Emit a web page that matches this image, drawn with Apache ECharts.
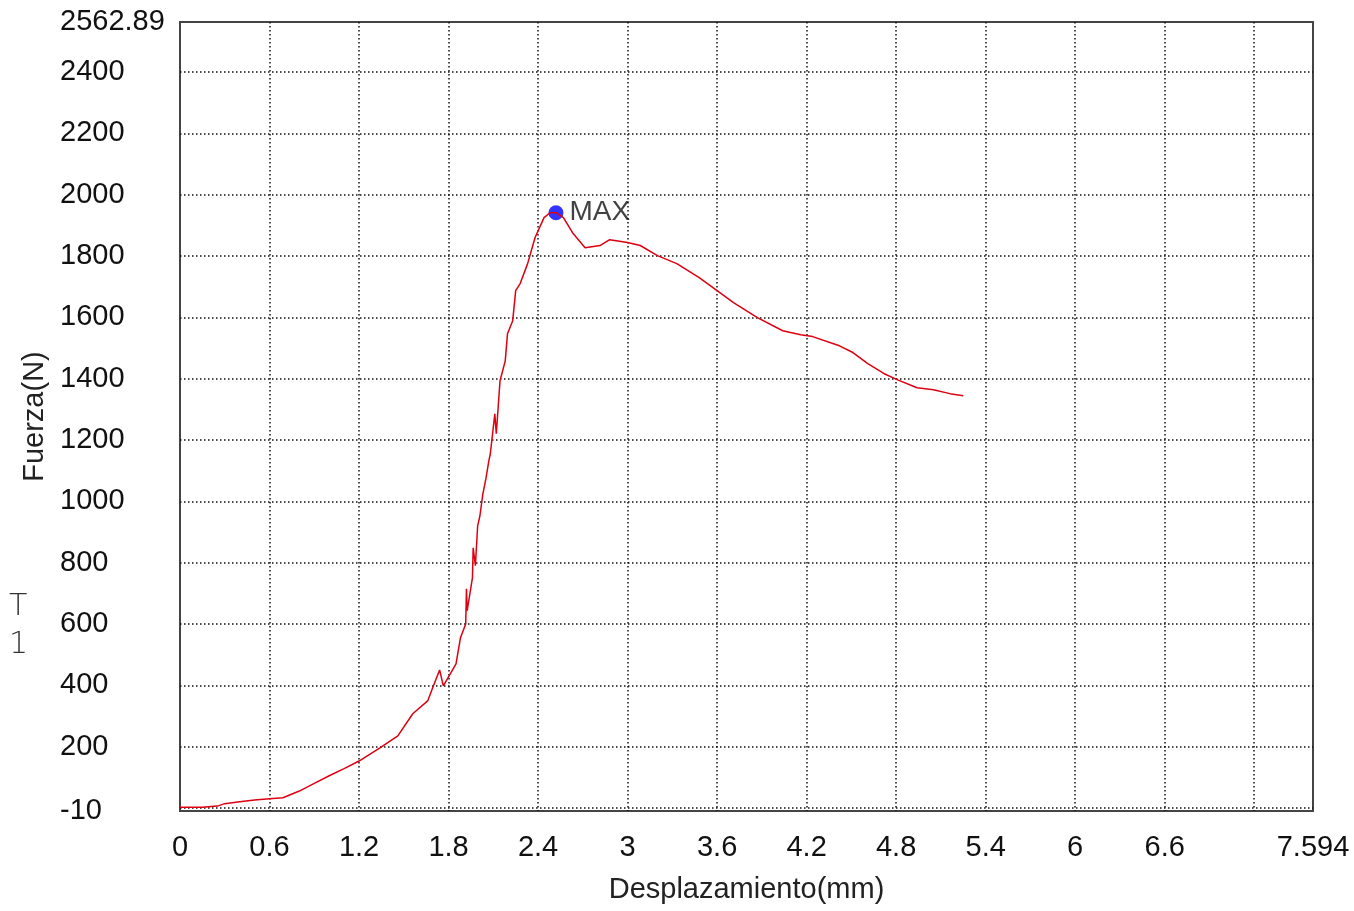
<!DOCTYPE html>
<html>
<head>
<meta charset="utf-8">
<script src="https://cdn.jsdelivr.net/npm/echarts@6/dist/echarts.min.js"></script>
<style>
  html, body { margin: 0; padding: 0; background: #fff; }
  #graph { width: 1354px; height: 911px; }
</style>
</head>
<body>
<div id="graph"></div>
<script>
// desplazamiento (mm) / fuerza (N)
const dispMm = [0, 0.15, 0.25, 0.3, 0.4, 0.5, 0.6, 0.69, 0.8, 0.9, 1.0, 1.1, 1.2, 1.34, 1.46, 1.56, 1.66, 1.7, 1.74,
  1.765, 1.85, 1.88, 1.915, 1.92, 1.925, 1.96, 1.965, 1.98, 1.995, 2.01, 2.03, 2.05, 2.07, 2.08, 2.11, 2.12,
  2.145, 2.18, 2.195, 2.23, 2.25, 2.28, 2.33, 2.38, 2.44, 2.48, 2.52, 2.57, 2.635, 2.715, 2.815, 2.88, 3.0,
  3.085, 3.2, 3.33, 3.48, 3.6, 3.71, 3.87, 4.04, 4.16, 4.24, 4.42, 4.51, 4.61, 4.72, 4.81, 4.94, 5.05, 5.16, 5.25]
const forceN = [2, 2, 6, 14, 20, 26, 30, 33, 55, 80, 105, 128, 153, 196, 235, 307, 349, 400, 450,
  398, 470, 555, 600, 715, 643, 750, 848, 790, 920, 952, 1024, 1073, 1132, 1155, 1285, 1220,
  1393, 1458, 1546, 1589, 1687, 1710, 1775, 1860, 1925, 1941, 1941, 1925, 1873, 1827, 1834, 1853, 1844,
  1834, 1801, 1775, 1729, 1687, 1648, 1599, 1556, 1543, 1537, 1507, 1485, 1449, 1416, 1396, 1370, 1364, 1351, 1344]
const maxPoint = [2.52, 1941]

const xLabels = [0, 0.6, 1.2, 1.8, 2.4, 3, 3.6, 4.2, 4.8, 5.4, 6, 6.6, 7.594]
const xGrid = [0.6, 1.2, 1.8, 2.4, 3, 3.6, 4.2, 4.8, 5.4, 6, 6.6, 7.2]
const yLabels = [-10, 200, 400, 600, 800, 1000, 1200, 1400, 1600, 1800, 2000, 2200, 2400, 2562.89]
const yGrid = [0, 200, 400, 600, 800, 1000, 1200, 1400, 1600, 1800, 2000, 2200, 2400]

const font = 'Liberation Sans, Arial, sans-serif'
const gridLine = { show: true, lineStyle: { color: '#111', width: 1.5, type: [1.5, 2.5] } }

const chart = echarts.init(document.getElementById('graph'))
chart.setOption({
  animation: false,
  textStyle: { fontFamily: font },
  grid: { left: 180, right: 41, top: 22, bottom: 100, show: true, borderColor: '#444', borderWidth: 2 },
  xAxis: {
    type: 'value',
    min: 0,
    max: 7.594,
    name: 'Desplazamiento(mm)',
    nameLocation: 'middle',
    nameGap: 64,
    nameTextStyle: { fontSize: 29, color: '#222' },
    axisLine: { show: false },
    axisTick: { show: false, customValues: xGrid },
    axisLabel: { customValues: xLabels, fontSize: 29, color: '#111', margin: 22, formatter: v => String(v) },
    splitLine: gridLine
  },
  yAxis: {
    type: 'value',
    min: -10,
    max: 2562.89,
    name: 'Fuerza(N)',
    nameLocation: 'middle',
    nameGap: 128,
    nameTextStyle: { fontSize: 29, color: '#222' },
    axisLine: { show: false },
    axisTick: { show: false, customValues: yGrid },
    axisLabel: { customValues: yLabels, fontSize: 29, color: '#111', margin: 120, align: 'left', formatter: v => String(v) },
    splitLine: gridLine
  },
  graphic: [
    { type: 'text', left: 9, top: 592, style: { text: 'T', fontSize: 30, fill: '#333', fontFamily: 'DejaVu Sans', fontWeight: 'lighter' } },
    { type: 'text', left: 9, top: 630, style: { text: '1', fontSize: 30, fill: '#333', fontFamily: 'DejaVu Sans', fontWeight: 'lighter' } }
  ],
  series: [
    {
      type: 'line',
      data: dispMm.map((d, i) => [d, forceN[i]]),
      showSymbol: false,
      lineStyle: { color: '#dd0010', width: 1.5 },
      silent: true
    },
    {
      type: 'scatter',
      data: [maxPoint],
      symbolSize: 15,
      itemStyle: { color: '#0000ff' },
      label: { show: true, position: 'right', distance: 6, formatter: 'MAX', fontSize: 28, color: '#111' }
    }
  ]
})
</script>
</body>
</html>
